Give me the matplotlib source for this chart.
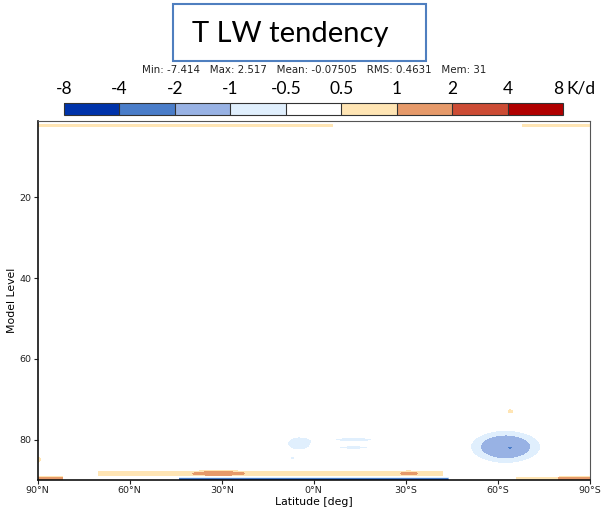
import matplotlib
matplotlib.use('Agg')
import matplotlib.pyplot as plt
import matplotlib.colors as mcolors
from matplotlib.patches import Rectangle
import numpy as np

# colour scale (K/d)
bounds = [-8, -4, -2, -1, -0.5, 0.5, 1, 2, 4, 8]
bound_labels = ['-8', '-4', '-2', '-1', '-0.5', '0.5', '1', '2', '4', '8']
colors = ['#0033aa', '#4a7dc9', '#98b2e4', '#e0effd', '#ffffff',
          '#ffe5b4', '#e69a6a', '#cc4c35', '#b00000']

xticks = [90, 60, 30, 0, -30, -60, -90]
xticklabels = ['90°N', '60°N', '30°N', '0°N', '30°S', '60°S', '90°S']
yticks = [20, 40, 60, 80]

stats = 'Min: -7.414   Max: 2.517   Mean: -0.07505   RMS: 0.4631   Mem: 31'

# thin bands along latitude: north end, south end, level, thickness, value
band_lat_n = [90, -68, 65, -30, 70, 44, 90, -66, -80]
band_lat_s = [-6, -90, 35, -51, -42, -44, 82, -90, -90]
band_lev = [2.1, 2.1, 3.8, 2.8, 88.4, 90.1, 89.7, 89.7, 89.8]
band_thick = [0.45, 0.45, 0.5, 0.5, 0.7, 0.6, 0.5, 0.5, 0.4]
band_val = [0.7, 0.7, -0.6, -0.6, 0.8, -6.0, 1.8, 0.8, 0.9]

# blobs: centre lat, centre level, widths, peak value, shape power
blob_lat = [-62.5, -64, -64, 5, 7, -13, -13, 90, 31, -31]
blob_lev = [81.8, 82, 73, 81, 84.6, 80, 82, 85, 88.4, 88.4]
blob_wlat = [11.6, 1.5, 1.2, 5, 1.5, 12, 10, 1.5, 7, 2.5]
blob_wlev = [4.15, 0.7, 0.6, 2.2, 0.8, 1.0, 0.8, 1.0, 0.6, 0.5]
blob_val = [-1.29, -1.0, 0.7, -0.8, -0.6, -0.65, -0.62, 0.7, 0.9, 0.7]
blob_pow = [2, 1, 1, 1, 1, 1, 1, 1, 1, 1]

lat = np.linspace(90, -90, 721)
lev = np.linspace(1, 90, 891)
LAT, LEV = np.meshgrid(lat, lev)
field = np.zeros_like(LAT)
for n, s, l, t, v in zip(band_lat_n, band_lat_s, band_lev, band_thick, band_val):
    inside = (LAT <= n) & (LAT >= s)
    field += v * inside * np.exp(-((LEV - l) / t) ** 2)
for la, le, wa, we, v, p in zip(blob_lat, blob_lev, blob_wlat, blob_wlev,
                                blob_val, blob_pow):
    r2 = ((LAT - la) / wa) ** 2 + ((LEV - le) / we) ** 2
    field += v * np.exp(-r2 ** p)

cmap = mcolors.ListedColormap(colors)
cmap.set_under(colors[0])
cmap.set_over(colors[-1])
norm = mcolors.BoundaryNorm(bounds, cmap.N)

fig = plt.figure(figsize=(6.03, 5.16), dpi=100)
ax = fig.add_axes([0.0622, 0.0698, 0.9162, 0.6963])
ax.contourf(lat, lev, field, levels=bounds, cmap=cmap, norm=norm, extend='both')
ax.set_xlim(90, -90)
ax.set_ylim(90, 1)
ax.set_xticks(xticks)
ax.set_xticklabels(xticklabels)
ax.set_yticks(yticks)
ax.tick_params(labelsize=6.8, length=3, width=0.8, pad=1.5, colors='#222222')
ax.set_xlabel('Latitude [deg]', fontsize=7.8, labelpad=1.5)
ax.set_ylabel('Model Level', fontsize=7.8)
ax.yaxis.set_label_coords(-0.038, 0.5)
for sp in ax.spines.values():
    sp.set_color('#555555')
    sp.set_linewidth(0.8)
ax.spines['left'].set_color('#111111')
ax.spines['left'].set_linewidth(1.2)
ax.spines['bottom'].set_color('#111111')
ax.spines['bottom'].set_linewidth(1.2)

# colour bar
cax = fig.add_axes([0.1061, 0.7771, 0.8276, 0.0238])
sm = plt.cm.ScalarMappable(norm=norm, cmap=cmap)
cbar = fig.colorbar(sm, cax=cax, orientation='horizontal', ticks=bounds,
                    drawedges=True, extend='neither')
cbar.outline.set_linewidth(0.8)
cbar.outline.set_edgecolor('#333333')
cbar.dividers.set_color('#333333')
cbar.dividers.set_linewidth(0.8)
cax.xaxis.set_ticks_position('top')
cax.tick_params(length=0, pad=4)
cax.set_xticklabels(bound_labels, fontsize=12.5, fontfamily='Lato')
cax.get_xticklabels()[-1].set_horizontalalignment('right')
fig.text(566 / 603, 1 - 88 / 516, 'K/d', fontsize=12.5, fontfamily='Lato',
         ha='left', va='center')

fig.text(314 / 603, 1 - 70 / 516, stats, fontsize=7.4, ha='center', va='center',
         color='#222222')

# title box
fig.add_artist(Rectangle((173 / 603, 1 - 61 / 516), 253 / 603, 57 / 516,
                         transform=fig.transFigure, fill=False,
                         edgecolor='#4f7fbf', linewidth=1.5))
fig.text(290 / 603, 1 - 34 / 516, 'T LW tendency', fontsize=21,
         fontfamily='Lato', ha='center', va='center')

fig.savefig('out.png', dpi=100)
